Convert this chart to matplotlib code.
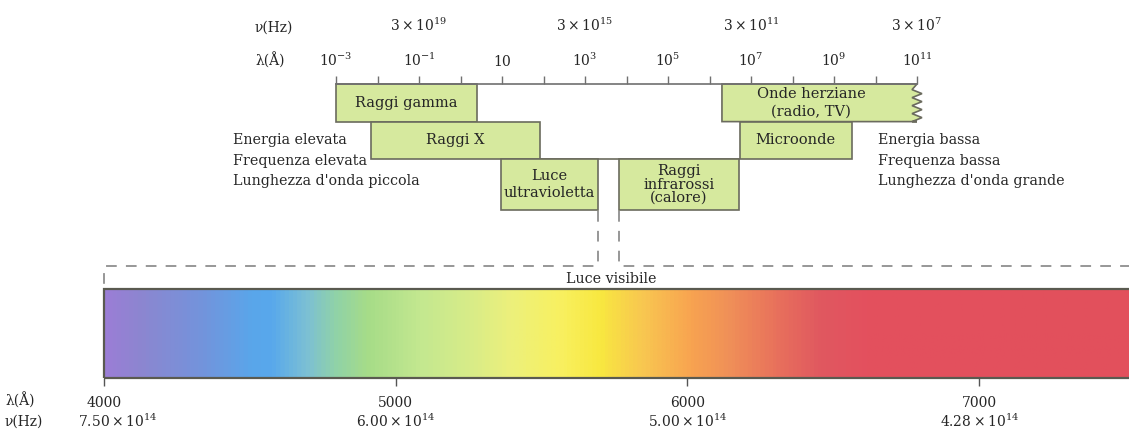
import numpy as np
import matplotlib
matplotlib.use("Agg")
import matplotlib.pyplot as plt
from matplotlib.colors import LinearSegmentedColormap
from matplotlib.patches import Rectangle, Polygon
from matplotlib.lines import Line2D
from matplotlib.transforms import Affine2D, ScaledTranslation
from matplotlib.ticker import NullLocator

# --- data -------------------------------------------------------------
band_names = ["Raggi gamma", "Raggi X", "Luce\nultravioletta",
              "Raggi\ninfrarossi\n(calore)", "Onde herziane\n(radio, TV)", "Microonde"]
band_lo = [-3.0, -2.15, 0.97, 3.82, 6.30, 6.73]   # log10 of wavelength in Å
band_hi = [0.40, 1.92, 3.31, 6.71, 11.0, 9.43]
band_row = [0, 1, 2, 2, 0, 1]

lam_tick_exp = [-3, -2, -1, 0, 1, 2, 3, 4, 5, 6, 7, 8, 9, 10, 11]
lam_tick_labels = [r"$10^{-3}$", "", r"$10^{-1}$", "", r"$10$", "", r"$10^{3}$", "",
                   r"$10^{5}$", "", r"$10^{7}$", "", r"$10^{9}$", "", r"$10^{11}$"]
nu_ticks = [3e19, 3e15, 3e11, 3e7]
nu_tick_labels = [r"$3 \times 10^{19}$", r"$3 \times 10^{15}$",
                  r"$3 \times 10^{11}$", r"$3 \times 10^{7}$"]

vis_ticks = [4000, 5000, 6000, 7000]
vis_nu_labels = [r"$7.50 \times 10^{14}$", r"$6.00 \times 10^{14}$",
                 r"$5.00 \times 10^{14}$", r"$4.28 \times 10^{14}$"]

spec_wl = [4000, 4120, 4330, 4500, 4570, 4690, 4790, 4900, 5085, 5255, 5390,
           5565, 5700, 5840, 6010, 6145, 6315, 6460, 6625, 7600]
spec_col = ["#9b7ed6", "#8c86d0", "#7394dc", "#5aa6ea", "#58a8ec", "#7cc0d4",
            "#90d2a8", "#a6dc88", "#c4e890", "#d8ec88", "#ecf07c", "#f8f060",
            "#f8e840", "#f8c850", "#f8a450", "#f09058", "#e8705c", "#e05860",
            "#e4505e", "#e2505c"]

side_left = ["Energia elevata", "Frequenza elevata", "Lunghezza d'onda piccola"]
side_right = ["Energia bassa", "Frequenza bassa", "Lunghezza d'onda grande"]

# --- layout -----------------------------------------------------------
W, H = 1129, 432
row_edges = [0, 1, 2, 3.35]
box_face = "#d6e99e"
edge = "#6b6b5e"
txt = "#262626"
plt.rcParams["font.family"] = "DejaVu Serif"
plt.rcParams["mathtext.fontset"] = "dejavuserif"

fig = plt.figure(figsize=(W / 100, H / 100), dpi=100)
px = Affine2D().scale(1 / W, -1 / H).translate(0, 1) + fig.transFigure


def fig_box(x0, y0, x1, y1):
    return [x0 / W, 1 - y1 / H, (x1 - x0) / W, (y1 - y0) / H]


# top: electromagnetic spectrum bands
ax = fig.add_axes(fig_box(336, 84, 917, 210))
ax.set_xscale("log")
ax.set_xlim(10.0 ** lam_tick_exp[0], 10.0 ** lam_tick_exp[-1])
ax.set_ylim(row_edges[-1], 0)
for s in ["left", "right", "bottom"]:
    ax.spines[s].set_visible(False)
ax.spines["top"].set_color("#707070")
ax.spines["top"].set_linewidth(1.2)
ax.set_yticks([])
ax.xaxis.tick_top()
ax.set_xticks([10.0 ** e for e in lam_tick_exp], labels=lam_tick_labels)
ax.xaxis.set_minor_locator(NullLocator())
ax.tick_params(axis="x", direction="out", length=6, width=1, color="#707070",
               labelsize=10, labelcolor=txt, pad=5)

sec = ax.secondary_xaxis("top", functions=(lambda l: 3e18 / l, lambda n: 3e18 / n))
sec.set_xticks(nu_ticks, labels=nu_tick_labels)
sec.xaxis.set_minor_locator(NullLocator())
sec.spines["top"].set_visible(False)
sec.tick_params(length=0, pad=36, labelsize=10, labelcolor=txt)

ax.hlines(row_edges[2], 10 ** band_hi[1], 10 ** band_lo[5], color=edge, lw=1.2, zorder=1)

for name, lo, hi, r in zip(band_names, band_lo, band_hi, band_row):
    y0, y1 = row_edges[r], row_edges[r + 1]
    if hi == lam_tick_exp[-1]:
        # open-ended band: zigzag on the right
        zy = np.linspace(y0 + 0.15, y1, 9)
        zx = [10 ** (hi + (0.12 if i % 2 else -0.12)) for i in range(len(zy))]
        verts = [(10 ** lo, y1), (10 ** lo, y0), (10 ** hi, y0)] + list(zip(zx, zy))
        verts.append((10 ** hi, y1))
        ax.add_patch(Polygon(verts, closed=True, fc=box_face, ec=edge, lw=1.2, clip_on=False))
        xc = 10 ** ((lo + hi - 0.4) / 2)
    else:
        ax.add_patch(Rectangle((10 ** lo, y0), 10 ** hi - 10 ** lo, y1 - y0,
                               fc=box_face, ec=edge, lw=1.2, clip_on=False))
        xc = 10 ** ((lo + hi) / 2)
    ls = 0.95 if name.count("\n") > 1 else 1.25
    ax.text(xc, (y0 + y1) / 2, name, ha="center", va="center", fontsize=10.5,
            color=txt, linespacing=ls)

fig.text(255, 28, "ν(Hz)", transform=px, ha="left", va="center", fontsize=10, color=txt)
fig.text(255, 61, "λ(Å)", transform=px, ha="left", va="center", fontsize=10, color=txt)

for i, (a, b) in enumerate(zip(side_left, side_right)):
    fig.text(233, 140 + 20.5 * i, a, transform=px, ha="left", va="center", fontsize=10.3, color=txt)
    fig.text(878, 140 + 20.5 * i, b, transform=px, ha="left", va="center", fontsize=10.3, color=txt)

# bottom: visible light
axb = fig.add_axes(fig_box(104, 289, W, 378))
axb.set_xlim(4000, 4000 + (W - 104) / 0.2917)
axb.set_ylim(0, 1)
for s in axb.spines.values():
    s.set_visible(False)
pos = [(w - spec_wl[0]) / (spec_wl[-1] - spec_wl[0]) for w in spec_wl]
cmap = LinearSegmentedColormap.from_list("visible", list(zip(pos, spec_col)))
grad = np.linspace(spec_wl[0], spec_wl[-1], 1000)[None, :]
axb.imshow(grad, extent=[spec_wl[0], spec_wl[-1], 0, 1], aspect="auto", cmap=cmap,
           vmin=spec_wl[0], vmax=spec_wl[-1])
axb.add_patch(Rectangle((spec_wl[0], 0), spec_wl[-1] - spec_wl[0], 1, fill=False,
                        ec="#5a5a50", lw=1.6, clip_on=False))
axb.set_yticks([])
axb.set_xticks(vis_ticks, labels=[str(t) for t in vis_ticks])
axb.tick_params(axis="x", direction="out", length=6, width=1, color="#555555",
                labelsize=10, labelcolor=txt, pad=7)
sec2 = axb.secondary_xaxis("bottom")
sec2.set_xticks(vis_ticks, labels=vis_nu_labels)
sec2.spines["bottom"].set_visible(False)
sec2.tick_params(length=0, pad=25, labelsize=10, labelcolor=txt)
# first frequency label sits a little to the right of its tick
first = sec2.xaxis.get_major_ticks()[0].label1
first.set_transform(first.get_transform() + ScaledTranslation(0.14, 0, fig.dpi_scale_trans))

fig.text(5, 401, "λ(Å)", transform=px, ha="left", va="center", fontsize=10, color=txt)
fig.text(5, 422, "ν(Hz)", transform=px, ha="left", va="center", fontsize=10, color=txt)
fig.text(611, 279, "Luce visibile", transform=px, ha="center", va="center", fontsize=10.3, color=txt)

# dashed funnel from the gap to the visible band
x_uv = ax.transData.transform((10 ** band_hi[2], 0))[0]
x_ir = ax.transData.transform((10 ** band_lo[3], 0))[0]
dash = dict(color="#7a7a7a", lw=1.1, linestyle=(0, (7, 6)), transform=px)
fig.add_artist(Line2D([x_uv, x_uv, 104, 104], [211, 266, 266, 289], **dash))
fig.add_artist(Line2D([x_ir, x_ir, W], [211, 266, 266], **dash))

fig.savefig("out.png", dpi=100)
